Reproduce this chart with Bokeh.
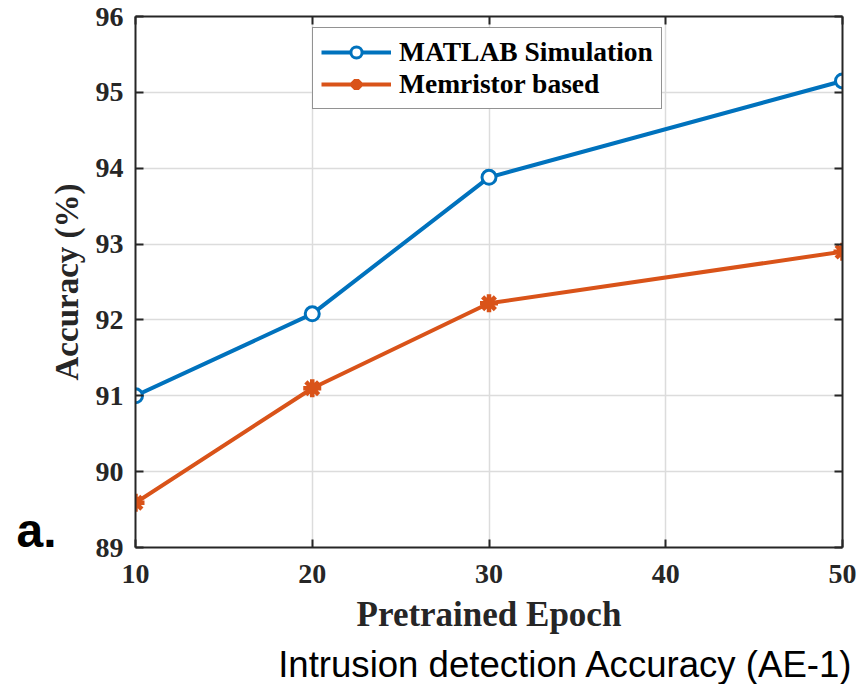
from bokeh.plotting import figure
from bokeh.models import Range1d, FixedTicker, LinearAxis, Legend, Title
from bokeh.embed import file_html
from bokeh.resources import INLINE

epochs = [10, 20, 30, 50]
matlab_acc = [91.0, 92.08, 93.88, 95.15]
memristor_acc = [89.59, 91.1, 92.22, 92.9]
x_ticks = [10, 20, 30, 40, 50]
y_ticks = [89, 90, 91, 92, 93, 94, 95, 96]
panel_tag = "a."
panel_tag_y = 89.22
caption = "Intrusion detection Accuracy (AE-1)"

BLUE = "#0072BD"
ORANGE = "#D95319"
DARK = "#262626"
SERIF = "Liberation Serif"

p = figure(frame_width=707, frame_height=531,
           min_border_left=135, min_border_top=16, min_border_right=18, min_border_bottom=137,
           x_range=Range1d(10, 50), y_range=Range1d(89, 96),
           output_backend="svg", toolbar_location=None,
           x_axis_label="Pretrained Epoch", y_axis_label="Accuracy (%)")
p.outline_line_color = None
p.background_fill_color = "white"
p.border_fill_color = "white"

for ax in (p.xaxis[0], p.yaxis[0]):
    ax.axis_line_color = DARK
    ax.axis_line_width = 2
    ax.major_tick_line_color = DARK
    ax.major_tick_line_width = 2
    ax.major_tick_in = 8
    ax.major_tick_out = 0
    ax.minor_tick_line_color = None
    ax.major_label_text_font = SERIF
    ax.major_label_text_font_style = "bold"
    ax.major_label_text_font_size = "28px"
    ax.major_label_text_color = DARK
    ax.axis_label_text_font = SERIF
    ax.axis_label_text_font_style = "bold"
    ax.axis_label_text_color = DARK

p.xaxis[0].axis_label_text_font_size = "35px"
p.yaxis[0].axis_label_text_font_size = "33px"
p.xaxis[0].ticker = FixedTicker(ticks=x_ticks)
p.yaxis[0].ticker = FixedTicker(ticks=y_ticks)
p.xaxis[0].major_label_standoff = 17
p.xaxis[0].axis_label_standoff = 9
p.yaxis[0].major_label_standoff = 12
p.yaxis[0].axis_label_standoff = 8


def box_axis(ticks):
    ax = LinearAxis(ticker=FixedTicker(ticks=ticks))
    ax.axis_line_color = DARK
    ax.axis_line_width = 2
    ax.major_tick_line_color = DARK
    ax.major_tick_line_width = 2
    ax.major_tick_in = 8
    ax.major_tick_out = 0
    ax.minor_tick_line_color = None
    ax.major_label_text_font_size = "1px"
    ax.major_label_text_color = None
    ax.major_label_standoff = 0
    ax.axis_label_standoff = 0
    return ax


p.add_layout(box_axis(x_ticks), "above")
p.add_layout(box_axis(y_ticks), "right")

# panel tag "a." as a tick label of an extra, invisible left axis
tag_axis = LinearAxis(ticker=FixedTicker(ticks=[panel_tag_y]),
                      major_label_overrides={panel_tag_y: panel_tag})
tag_axis.axis_line_color = None
tag_axis.major_tick_line_color = None
tag_axis.minor_tick_line_color = None
tag_axis.major_tick_out = 0
tag_axis.major_tick_in = 0
tag_axis.major_label_standoff = -11
tag_axis.major_label_text_font = "Liberation Sans"
tag_axis.major_label_text_font_style = "bold"
tag_axis.major_label_text_font_size = "48px"
tag_axis.major_label_text_color = "black"
p.add_layout(tag_axis, "left")

p.xgrid.ticker = FixedTicker(ticks=x_ticks)
p.ygrid.ticker = FixedTicker(ticks=y_ticks)
p.grid.grid_line_color = "#dcdcdc"
p.grid.grid_line_width = 1.5

l1 = p.line(epochs, matlab_acc, line_color=BLUE, line_width=4)
s1 = p.scatter(epochs, matlab_acc, marker="circle", size=14, line_color=BLUE,
               line_width=3, fill_color="white")
l2 = p.line(epochs, memristor_acc, line_color=ORANGE, line_width=4)
s2 = p.scatter(epochs, memristor_acc, marker="asterisk", size=18, line_color=ORANGE,
               line_width=4.5)

legend = Legend(items=[("MATLAB Simulation", [l1, s1]), ("Memristor based", [l2, s2])],
                location=(177, 438))
legend.label_text_font = SERIF
legend.label_text_font_style = "bold"
legend.label_text_font_size = "27.5px"
legend.label_text_color = "black"
legend.glyph_width = 70
legend.glyph_height = 28
legend.label_standoff = 8
legend.spacing = 0
legend.padding = 8
legend.margin = 0
legend.border_line_color = DARK
legend.border_line_width = 1.5
legend.background_fill_color = "white"
legend.background_fill_alpha = 1
p.add_layout(legend, "center")

cap = Title(text=caption, align="right", offset=-11,
            text_font="Liberation Sans", text_font_style="normal",
            text_font_size="36.6px", text_color="black")
p.add_layout(cap, "below")

open("out.html", "w").write(file_html(p, INLINE))
